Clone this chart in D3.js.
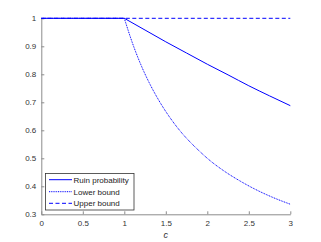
<!DOCTYPE html>
<html><head><meta charset="utf-8">
<script src="https://cdn.jsdelivr.net/npm/d3@7"></script>
<style>html,body{margin:0;padding:0;background:#fff;} svg{display:block;}</style>
</head><body>
<svg id="chart" width="321" height="242"></svg>
<script>
const ruinC = [0, 1.0, 1.25, 1.5, 1.75, 2.0, 2.25, 2.5, 2.75, 3.0];
const ruinV = [1, 1.0, 0.958, 0.916, 0.876, 0.836, 0.798, 0.759, 0.723, 0.688];
const lowerC = [0, 1.0, 1.1, 1.2, 1.3, 1.4, 1.5, 1.6, 1.7, 1.8, 1.9, 2.0, 2.2, 2.4, 2.6, 2.8, 3.0];
const lowerV = [1, 1.0, 0.91, 0.834, 0.77, 0.715, 0.667, 0.625, 0.588, 0.556, 0.527, 0.5, 0.455, 0.418, 0.386, 0.359, 0.336];
const upperC = [0, 3];
const upperV = [1, 1];
const xTicks = [0, 0.5, 1, 1.5, 2, 2.5, 3];
const yTicks = [0.3, 0.4, 0.5, 0.6, 0.7, 0.8, 0.9, 1];
const seriesNames = ["Ruin probability", "Lower bound", "Upper bound"];
const xLabel = "c";

const svg = d3.select("#chart");
const x = d3.scaleLinear().domain([0, 3]).range([41.3, 290.3]);
const y = d3.scaleLinear().domain([0.3, 1]).range([214.3, 18.3]);
const font = "Liberation Sans, Arial, Helvetica, sans-serif";
const blue = "#0000ff";

// axes
const xAxis = svg.append("g").attr("transform", `translate(0,${y(0.3)})`)
  .call(d3.axisBottom(x).tickValues(xTicks).tickSizeInner(-3).tickSizeOuter(0).tickPadding(6).tickFormat(d3.format("~g")));
const yAxis = svg.append("g").attr("transform", `translate(${x(0)},0)`)
  .call(d3.axisLeft(y).tickValues(yTicks).tickSizeInner(-3).tickSizeOuter(0).tickPadding(5).tickFormat(d3.format("~g")));
[xAxis, yAxis].forEach(g => {
  g.select(".domain").attr("stroke", "#8c8c8c").attr("stroke-width", 1);
  g.selectAll(".tick line").attr("stroke", "#8c8c8c");
  g.selectAll("text").attr("fill", "#333").style("font-family", font).style("font-size", "8px");
});

const curve = d3.line().x(d => x(d[0])).y(d => y(d[1])).curve(d3.curveMonotoneX);
const straight = d3.line().x(d => x(d[0])).y(d => y(d[1]));
function drawSeries(cs, vs, dash) {
  const pts = cs.map((c, i) => [c, vs[i]]);
  const flat = pts.filter(p => p[0] <= 1);
  const rest = pts.filter(p => p[0] >= 1);
  const d = straight(flat) + (rest.length > 1 ? curve(rest) : "");
  svg.append("path").attr("d", d).attr("fill", "none").attr("stroke", blue)
    .attr("stroke-width", 1).attr("stroke-dasharray", dash);
}
drawSeries(lowerC, lowerV, "1,0.8");
drawSeries(ruinC, ruinV, null);
svg.append("path").attr("d", straight(upperC.map((c, i) => [c, upperV[i]]))).attr("fill", "none")
  .attr("stroke", blue).attr("stroke-width", 1).attr("stroke-dasharray", "4,2.5");

// x label
svg.append("text").attr("x", (x(0) + x(3)) / 2).attr("y", 238).attr("text-anchor", "middle")
  .style("font-family", font).style("font-size", "9px").style("font-style", "italic").attr("fill", "#333").text(xLabel);

// legend
const lg = svg.append("g");
lg.append("rect").attr("x", 45.5).attr("y", 173.5).attr("width", 88.5).attr("height", 36.5)
  .attr("fill", "#fff").attr("stroke", "#333").attr("stroke-width", 0.8);
const dashes = [null, "1,0.8", "4,2.5"];
const rowY = [179.7, 191.7, 203.3];
seriesNames.forEach((name, i) => {
  lg.append("line").attr("x1", 49).attr("x2", 72).attr("y1", rowY[i]).attr("y2", rowY[i])
    .attr("stroke", blue).attr("stroke-width", 1).attr("stroke-dasharray", dashes[i]);
  lg.append("text").attr("x", 73.5).attr("y", rowY[i] + 3).style("font-family", font).style("font-size", "8px")
    .attr("fill", "#222").text(name);
});
</script>
</body></html>
